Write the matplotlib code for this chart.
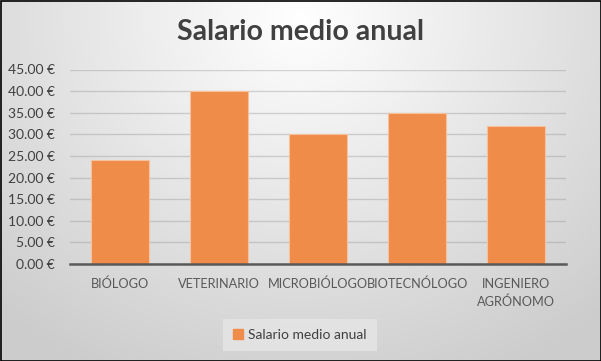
import numpy as np
import matplotlib
matplotlib.use("Agg")
import matplotlib.pyplot as plt
from matplotlib.patches import Rectangle

categories = ["BIÓLOGO", "VETERINARIO", "MICROBIÓLOGO", "BIOTECNÓLOGO", "INGENIERO\nAGRÓNOMO"]
values = [24, 40, 30, 35, 32]
yticks = [0, 5, 10, 15, 20, 25, 30, 35, 40, 45]
ytick_labels = [f"{v:.2f} €" for v in yticks]
series_name = "Salario medio anual"
title = "Salario medio anual"

plt.rcParams['font.family'] = ['Lato', 'DejaVu Sans']

W, H = 601, 361
fig = plt.figure(figsize=(W / 100, H / 100), dpi=100)

# radial gradient background
bg = fig.add_axes([0, 0, 1, 1], zorder=-10)
yy, xx = np.mgrid[0:H, 0:W]
cx, cy = W / 2, H * 0.05
r = np.sqrt(((xx - cx) / (W * 0.75)) ** 2 + ((yy - cy) / (H * 1.1)) ** 2)
r = np.clip(r, 0, 1)
val = 1.0 - 0.20 * r
img = np.dstack([val, val, val])
bg.imshow(img, aspect='auto', extent=[0, W, H, 0])
bg.set_xlim(0, W); bg.set_ylim(H, 0)
bg.axis('off')
bg.add_patch(Rectangle((0.5, 0.5), W - 1, H - 1, fill=False, edgecolor='black', linewidth=1.2))

ax_l, ax_r = 70 / W, 566 / W
ax_b, ax_t = 1 - 264 / H, 1 - 69.5 / H
ax = fig.add_axes([ax_l, ax_b, ax_r - ax_l, ax_t - ax_b])
ax.patch.set_alpha(0)

x = np.arange(len(categories))
ax.bar(x, values, width=0.585, color='#EF8C4A', edgecolor='#F6C29C', linewidth=0.8, zorder=3)
ax.set_xlim(-0.5, len(categories) - 0.5)
ax.set_ylim(0, 45)
ax.set_yticks(yticks)
ax.set_yticklabels(ytick_labels)
ax.set_xticks(x)
ax.set_xticklabels(categories, linespacing=1.5)
ax.tick_params(axis='x', length=0, labelsize=9.2, colors='#595959', pad=10)
ax.tick_params(axis='y', length=0, labelsize=10, colors='#404040', pad=11)
ax.grid(axis='y', color='#8c8c8c', alpha=0.35, linewidth=1, zorder=0)
for s in ['top', 'right', 'left']:
    ax.spines[s].set_visible(False)
ax.spines['bottom'].set_color('#595959')
ax.spines['bottom'].set_linewidth(1.8)
ax.spines['bottom'].set_zorder(4)

fig.text(0.5, 1 - 32 / H, title, ha='center', va='center', fontsize=20.5,
         fontweight='bold', color='#404040')

leg = fig.legend([Rectangle((0, 0), 1, 1, color='#EF8C4A')], [series_name],
                 loc='center', bbox_to_anchor=(300 / W, 1 - 335 / H),
                 fontsize=10, frameon=True, handlelength=0.7, handleheight=0.7,
                 handletextpad=0.4, borderpad=0.7)
leg.get_frame().set_facecolor('#e6e6e6')
leg.get_frame().set_edgecolor('none')
leg.get_frame().set_alpha(0.8)
leg.get_frame().set_boxstyle('square', pad=0)
for t in leg.get_texts():
    t.set_color('#404040')

fig.savefig('out.png', dpi=100)
